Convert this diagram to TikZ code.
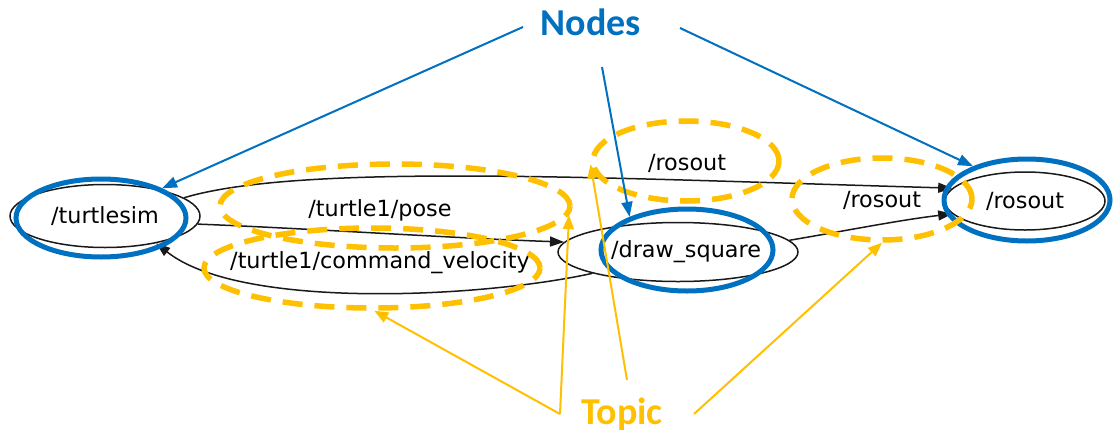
\documentclass[tikz,border=0pt]{standalone}
\usepackage{fontspec}
\setmainfont{DejaVu Sans}
\newfontfamily\calloutfont{Carlito}
\usetikzlibrary{shapes.geometric,arrows.meta}
\definecolor{nodeblue}{HTML}{0070C0}
\definecolor{topicgold}{HTML}{FFC000}

\begin{document}
\begin{tikzpicture}[x=1pt,y=-1pt,
  rosnode/.style={ellipse, draw=black!90, line width=1.5pt, inner sep=0pt,
    font=\fontsize{22.3}{26}\selectfont},
  ring/.style={ellipse, draw=nodeblue, line width=5pt, inner sep=0pt},
  topicring/.style={ellipse, draw=topicgold, line width=5.5pt,
    dash pattern=on 20pt off 12pt, inner sep=0pt},
  edgelabel/.style={font=\fontsize{22.3}{26}\selectfont, inner sep=0pt},
  rosedge/.style={draw=black!90, line width=1.5pt, -{Triangle[length=14pt,width=10pt]}},
  nodearrow/.style={draw=nodeblue, line width=2pt, -{Triangle[length=15pt,width=11pt]}},
  topicarrow/.style={draw=topicgold, line width=2pt, -{Triangle[length=14pt,width=11pt]}},
  callout/.style={font=\calloutfont\bfseries\fontsize{38}{44}\selectfont,
    inner sep=0pt, anchor=base}
]
\fill[white] (0,0) rectangle (1115,434);
\useasboundingbox (0,0) rectangle (1115,434);

% ROS graph: nodes
\node[rosnode, minimum width=190pt, minimum height=63pt] (ts) at (105,216) {/turtlesim};
\node[rosnode, minimum width=240pt, minimum height=59pt] (ds) at (678,252) {\hspace*{16pt}/draw\_square};
\node[rosnode, minimum width=160pt, minimum height=58pt] (ro) at (1025,201) {/rosout};

% ROS graph: topic edges
\draw[rosedge] (ts.13) .. controls (300,163) and (600,178) .. (ro.170);
\draw[rosedge] (ts.-5) .. controls (300,228) and (450,238) .. (ds.175);
\draw[rosedge] (ds.194) .. controls (480,298) and (240,310) .. (ts.-28);
\draw[rosedge] (ds.6) .. controls (850,230) and (900,220) .. (ro.190);

% topic names
\node[edgelabel] (lpose) at (380,210) {/turtle1/pose};
\node[edgelabel] (lcv) at (380,263) {/turtle1/command\_velocity};
\node[edgelabel] (lro1) at (687,163) {/rosout};
\node[edgelabel] (lro2) at (882,200) {/rosout};

% highlight rings around the nodes
\node[ring, minimum width=170pt, minimum height=78pt] (tsring) at (101,218) {};
\node[ring, minimum width=172pt, minimum height=82pt] (dsring) at (687,250) {};
\node[ring, minimum width=166pt, minimum height=82pt] (roring) at (1027,200) {};

% dashed rings around the topics
\node[topicring, minimum width=350pt, minimum height=84pt] (poser) at (395,206) {};
\node[topicring, minimum width=336pt, minimum height=80pt] (cvr) at (372,268) {};
\node[topicring, minimum width=186pt, minimum height=80pt] (toprr) at (686,161) {};
\node[topicring, minimum width=180pt, minimum height=82pt] (rightrr) at (882,199) {};

% callouts
\node[callout, text=nodeblue] (nodes) at (591,35) {Nodes};
\node[callout, text=topicgold] (topic) at (622,424) {Topic};

\coordinate (nA) at (523,27);
\coordinate (nB) at (602,67);
\coordinate (nC) at (680,28);
\coordinate (tA) at (560,414);
\coordinate (tB) at (627,380);
\coordinate (tC) at (694,414);

\draw[nodearrow] (nA) -- (tsring.26);
\draw[nodearrow] (nB) -- (dsring.150);
\draw[nodearrow] (nC) -- (roring.148);

\draw[topicarrow] (tA) -- (cvr.-87);
\draw[topicarrow] (tA) -- (poser.-3);
\draw[topicarrow] (tB) -- (toprr.182);
\draw[topicarrow] (tC) -- (rightrr.-90);
\end{tikzpicture}
\end{document}
